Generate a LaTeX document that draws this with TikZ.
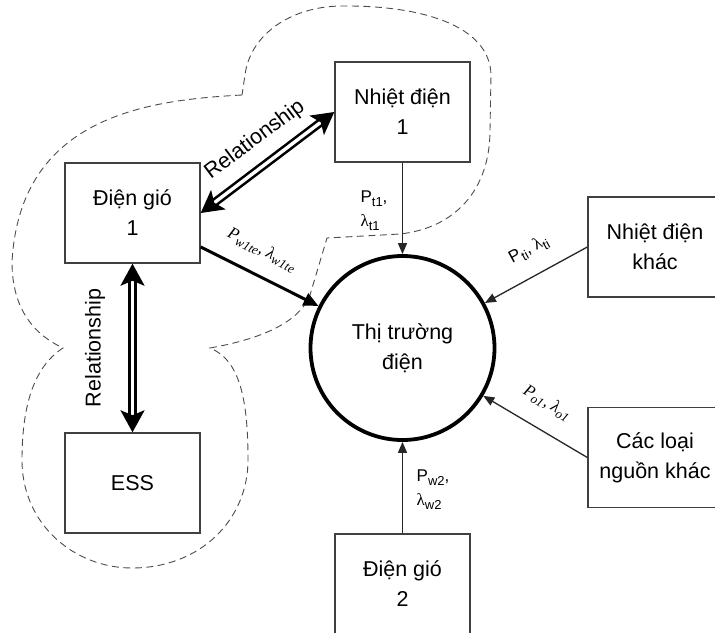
\documentclass[tikz,border=0pt]{standalone}
\usepackage{fontspec}
\setmainfont{Liberation Sans}
\newfontfamily\greekserif{Liberation Serif}
\usetikzlibrary{arrows.meta}

% lowered, smaller index used in the flow labels
\newcommand\lowsub[1]{\raisebox{-0.45ex}{\fontsize{13}{13}\selectfont #1}}
\newcommand\lam{{\greekserif λ}}

\begin{document}
\begin{tikzpicture}[x=1pt,y=-1pt,
  box/.style={draw=black!75, line width=1.4pt, minimum width=135pt,
    minimum height=100pt, inner sep=0pt, align=center,
    font=\fontsize{21.5}{30}\selectfont},
  market/.style={circle, draw=black, line width=3.8pt, minimum size=184pt,
    inner sep=0pt, align=center, font=\fontsize{21.5}{30}\selectfont},
  flow/.style={draw=black!85, line width=1.3pt,
    -{Triangle[length=11pt,width=9pt]}},
  bigflow/.style={draw=black, line width=3pt,
    -{Triangle[length=15pt,width=13pt]}},
  relation/.style={draw=black, line width=2.6pt, double=white,
    double distance=3.4pt,
    {Stealth[length=22pt,width=24pt,inset=5pt]}-{Stealth[length=22pt,width=24pt,inset=5pt]}},
  flowlabel/.style={font=\fontsize{17}{24}\selectfont, align=left, inner sep=0pt},
  italabel/.style={font=\fontsize{17}{24}\selectfont\greekserif\itshape, inner sep=0pt},
  rellabel/.style={font=\fontsize{21.5}{26}\selectfont, inner sep=0pt},
  region/.style={draw=black!70, line width=0.9pt, dash pattern=on 7pt off 4.5pt}
]
\useasboundingbox (0,0) rectangle (715,632);

% dashed outline around the coupled wind / thermal / storage group
\draw[region] (242,95) .. controls (150,100) and (20,115) .. (12,262)
  .. controls (12,310) and (35,335) .. (63,348)
  .. controls (32,368) and (22,410) .. (22,460)
  .. controls (22,525) and (75,568) .. (132,568)
  .. controls (200,568) and (248,520) .. (248,460)
  .. controls (248,400) and (240,360) .. (210,348)
  .. controls (255,340) and (298,325) .. (310,295)
  -- (327,238) -- (400,234)
  .. controls (455,228) and (490,190) .. (490,130)
  -- (491,75)
  .. controls (490,25) and (420,5) .. (340,6)
  .. controls (290,7) and (250,35) .. (245,75)
  -- cycle;

% participants (the two right-hand boxes run past the right edge)
\node[box] (dg1) at (132.5,213) {Điện gió\\1};
\node[box] (nd1) at (402.5,112) {Nhiệt điện\\1};
\node[box] (ess) at (132.5,483) {ESS};
\node[box, minimum width=134pt] (ndk) at (655,247) {Nhiệt điện\\khác};
\node[box, minimum width=134pt] (clnk) at (655,457.5) {Các loại\\nguồn khác};
\node[box] (dg2) at (402.5,584) {Điện gió\\2};
\node[market] (mkt) at (402.5,348) {Thị trường\\điện};

% relationships inside the group
\draw[relation] (dg1.east) -- (nd1.west);
\draw[relation] (dg1.south) -- (ess.north);
\node[rellabel, rotate=36.8] (rel1) at (255,140) {Relationship};
\node[rellabel, rotate=90] (rel2) at (95,348) {Relationship};

% bids into the market
\draw[bigflow] ([yshift=-34pt]dg1.east) -- (mkt);
\draw[flow] (nd1) -- (mkt);
\draw[flow] (ndk.west) -- (mkt);
\draw[flow] (clnk.west) -- (mkt);
\draw[flow] (dg2) -- (mkt);

% bid labels
\node[italabel, rotate=-27] (lw1) at (262,250) {P\lowsub{w1te}, λ\lowsub{w1te}};
\node[flowlabel] (lt1) at (374,211) {P\lowsub{t1},\\\lam\lowsub{t1}};
\node[flowlabel, rotate=28.5] (lti) at (529,250) {P\lowsub{ti}, \lam\lowsub{ti}};
\node[italabel, rotate=-30.4] (lo1) at (547,403) {P\lowsub{o1}, λ\lowsub{o1}};
\node[flowlabel] (lw2) at (433,490) {P\lowsub{w2},\\\lam\lowsub{w2}};
\end{tikzpicture}
\end{document}
